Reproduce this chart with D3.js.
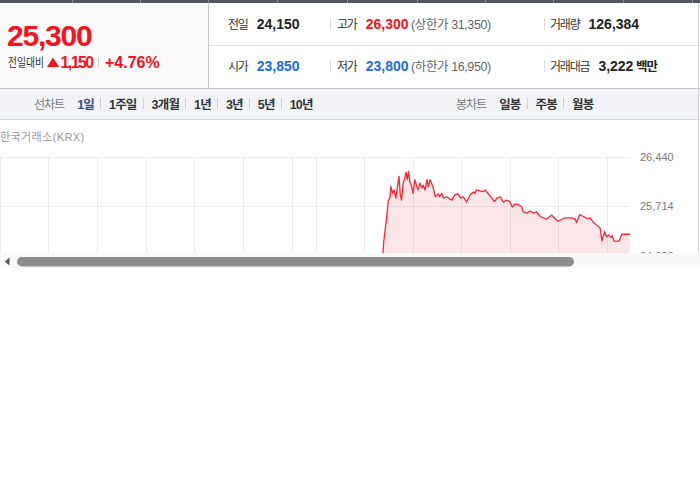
<!DOCTYPE html>
<html>
<head>
<meta charset="utf-8">
<script src="https://cdn.jsdelivr.net/npm/d3@7"></script>
<style>
  body { margin: 0; background: #fff; }
  svg { display: block; }
</style>
</head>
<body>
<script>
'use strict';

// Quote header
const currentPrice = 25300;
const changeLabel = '전일대비';
const changeAbs = 1150;
const changePct = '+4.76%';
const quoteLabels = [['전일', '고가', '거래량'], ['시가', '저가', '거래대금']];
const quoteValues = [['24,150', '26,300', '126,384'], ['23,850', '23,800', '3,222']];
const quoteNotes = [[null, '(상한가 31,350)', null], [null, '(하한가 16,950)', '백만']];

// Period tabs
const lineTitle = '선차트';
const lineTabs = ['1일', '1주일', '3개월', '1년', '3년', '5년', '10년'];
const candleTitle = '봉차트';
const candleTabs = ['일봉', '주봉', '월봉'];
const sourceLabel = '한국거래소(KRX)';

// Intraday series: minutes after 09:00 and price
const minutes = [0, 1, 2, 3, 8, 10, 13, 14, 17, 19, 22, 23, 27, 29, 31, 34, 36, 38, 40, 42,
  44, 47, 49, 52, 55, 57, 60, 63, 65, 68, 71, 73, 76, 78, 81, 84, 89, 91, 94, 97,
  102, 110, 115, 120, 124, 128, 133, 139, 144, 146, 149, 154, 160, 162, 167, 173, 177, 181, 186, 191,
  196, 201, 205, 209, 214, 220, 222, 228, 233, 238, 243, 249, 254, 259, 264, 267, 272, 277, 283, 288,
  293, 298, 304, 306, 311, 317, 322, 327, 332, 338, 343, 346, 350, 353, 356, 360, 362, 365, 373, 377, 390];
const prices = [23850, 24700, 25050, 25190, 25580, 25780, 25850, 26000, 25900, 25950, 25830, 25900, 26150, 25880, 25800, 26070, 26120, 26210, 26100, 26220,
  26070, 26000, 25900, 26100, 26000, 25950, 26050, 25975, 26020, 25950, 26100, 26000, 26100, 26050, 25975, 25850, 25890, 25850, 25900, 25830,
  25850, 25800, 25880, 25890, 25830, 25850, 25770, 25880, 25920, 25900, 25950, 25935, 25925, 25950, 25900, 25830, 25780, 25830, 25850, 25770,
  25800, 25780, 25700, 25740, 25740, 25700, 25630, 25610, 25640, 25610, 25630, 25560, 25540, 25520, 25560, 25580, 25530, 25490, 25520, 25540,
  25540, 25540, 25520, 25470, 25590, 25560, 25530, 25540, 25480, 25430, 25390, 25200, 25340, 25260, 25290, 25250, 25280, 25200, 25200, 25300, 25300];

// Axis ticks
const yTicks = [24988, 25714, 26440];
const gridMinutes = [-600, -525, -448, -371, -295, -218, -141, -103, -28, 49, 125, 201, 277, 354];

const FONT = "'Liberation Sans', Arial, 'Noto Sans CJK KR', sans-serif";
const RED = '#f5121d';
const BLUE = '#1a6ce0';
const fmt = d3.format(',');

const svg = d3.select('body').append('svg')
  .attr('width', 700)
  .attr('height', 490)
  .style('font-family', FONT);

const text = (g, x, y, str, opts = {}) => g.append('text')
  .attr('x', x)
  .attr('y', y)
  .attr('font-size', opts.size || 12)
  .attr('font-weight', opts.bold ? 'bold' : 'normal')
  .attr('letter-spacing', opts.ls || 0)
  .attr('fill', opts.fill || '#333')
  .text(str);

const vline = (g, x, y1, y2, c) => g.append('line')
  .attr('x1', x).attr('x2', x).attr('y1', y1).attr('y2', y2)
  .attr('stroke', c).attr('shape-rendering', 'crispEdges');

const hline = (g, y, x1, x2, c) => g.append('line')
  .attr('x1', x1).attr('x2', x2).attr('y1', y).attr('y2', y)
  .attr('stroke', c).attr('shape-rendering', 'crispEdges');

// Frame
const frame = svg.append('g');
frame.append('rect').attr('width', 700).attr('height', 3).attr('fill', '#50565f');
[72, 140, 208, 277, 347, 417, 485, 553, 623, 692].forEach(x => vline(frame, x + 0.5, 0, 3, '#8e939a'));
frame.append('rect').attr('y', 3).attr('width', 208).attr('height', 85).attr('fill', '#fafafa');
vline(frame, 208.5, 3, 88, '#c8c8c8');
hline(frame, 45.5, 209, 700, '#e6e6e6');
frame.append('rect').attr('y', 89).attr('width', 700).attr('height', 30).attr('fill', '#f3f4f7');
hline(frame, 88.5, 0, 700, '#c4c4c4');
hline(frame, 119.5, 0, 700, '#d6d6d6');
vline(frame, 698.5, 3, 254, '#d2d2d2');

// Current price
const head = svg.append('g');
text(head, 7, 45.5, fmt(currentPrice), { size: 30, bold: true, ls: -1.2, fill: RED });
text(head, 8, 67, changeLabel, { size: 12, fill: '#333' })
  .attr('textLength', 36)
  .attr('lengthAdjust', 'spacingAndGlyphs');
head.append('path').attr('d', 'M47,67L53,57.5L59,67Z').attr('fill', RED);
text(head, 60.5, 67.5, fmt(changeAbs), { size: 16, bold: true, ls: -1.6, fill: RED });
vline(head, 98.5, 58, 68, '#d0d0d0');
text(head, 105, 67.5, changePct, { size: 16, bold: true, fill: RED });

// Quote table
const colX = [228, 337, 550];
const rowBase = [28.5, 71];
quoteLabels.forEach((row, r) => {
  row.forEach((label, c) => {
    const lab = text(head, colX[c], rowBase[r], label, { size: 12, ls: -1.2, fill: '#333' });
    const vx = colX[c] + lab.node().getComputedTextLength() + 9;
    const valFill = c === 1 ? (r === 0 ? RED : BLUE) : (c === 0 && r === 1 ? BLUE : '#222');
    const val = text(head, vx, rowBase[r], quoteValues[r][c], { size: 14, bold: true, fill: valFill });
    const note = quoteNotes[r][c];
    if (note) {
      const nx = vx + val.node().getComputedTextLength() + 2.5;
      const isUnit = c === 2;
      text(head, nx, rowBase[r], note, { size: 12.5, bold: isUnit, ls: isUnit ? -1 : -0.4, fill: isUnit ? '#222' : '#666' });
    }
  });
  [330.5, 544.5].forEach(x => vline(head, x, rowBase[r] - 11, rowBase[r] + 1, '#dcdcdc'));
});

// Tabs
const tabs = svg.append('g');
const tabBase = 108.5;
const drawTabs = (startX, title, items, activeIdx) => {
  const t = text(tabs, startX, tabBase, title, { size: 12, ls: -1, fill: '#777' });
  let cx = startX + t.node().getComputedTextLength() + 13;
  items.forEach((item, i) => {
    const el = text(tabs, cx, tabBase, item, { size: 12.5, bold: true, ls: -0.8, fill: i === activeIdx ? '#2b4ea2' : '#333' });
    cx += el.node().getComputedTextLength();
    if (i < items.length - 1) {
      vline(tabs, Math.round(cx + 6) + 0.5, 98, 109, '#d0d0d0');
      cx += 15;
    }
  });
};
drawTabs(34, lineTitle, lineTabs, 0);
drawTabs(456, candleTitle, candleTabs, -1);

// Chart
text(svg, 0, 141, sourceLabel, { size: 11, ls: 0.4, fill: '#999' });

const x = d3.scaleLinear().domain([-600, 390]).range([0, 630]);
const y = d3.scaleLinear().domain([24988, 26440]).range([255.5, 156.5]);
const series = minutes.map((t, i) => ({ t, p: prices[i] }));

svg.append('clipPath').attr('id', 'plot-clip')
  .append('rect').attr('x', 0).attr('y', 120).attr('width', 700).attr('height', 133.5);

const chart = svg.append('g').attr('clip-path', 'url(#plot-clip)');

chart.selectAll('.hgrid').data(yTicks).enter().append('line')
  .attr('class', 'hgrid')
  .attr('x1', 0).attr('x2', x(390))
  .attr('y1', d => Math.round(y(d)) + 0.5).attr('y2', d => Math.round(y(d)) + 0.5)
  .attr('stroke', '#ebebeb').attr('shape-rendering', 'crispEdges');

chart.selectAll('.vgrid').data(gridMinutes).enter().append('line')
  .attr('class', 'vgrid')
  .attr('x1', d => Math.round(x(d)) + 0.5).attr('x2', d => Math.round(x(d)) + 0.5)
  .attr('y1', y(26440)).attr('y2', 320)
  .attr('stroke', '#ebebeb').attr('shape-rendering', 'crispEdges');

chart.selectAll('.ylab').data(yTicks).enter().append('text')
  .attr('class', 'ylab')
  .attr('x', 640).attr('y', d => y(d) + 4)
  .attr('font-size', 11).attr('fill', '#777')
  .text(d => fmt(d));

const area = d3.area()
  .x(d => x(d.t))
  .y0(y(23000))
  .y1(d => y(d.p));

const line = d3.line()
  .x(d => x(d.t))
  .y(d => y(d.p));

chart.append('path').datum(series)
  .attr('d', area)
  .attr('fill', 'rgba(240, 50, 65, 0.12)');

chart.append('path').datum(series)
  .attr('d', line)
  .attr('fill', 'none')
  .attr('stroke', '#fa2533')
  .attr('stroke-width', 1.3)
  .attr('stroke-linejoin', 'round');

// Scrollbar
const bar = svg.append('g');
bar.append('rect').attr('y', 253.5).attr('width', 700).attr('height', 15).attr('fill', '#f9f9f9');
bar.append('path').attr('d', 'M5,261.5L9.5,257.5L9.5,265.5Z').attr('fill', '#555');
bar.append('rect').attr('x', 17).attr('y', 257).attr('width', 557).attr('height', 9.5)
  .attr('rx', 4.75).attr('fill', '#8c8c8c');
</script>
</body>
</html>
